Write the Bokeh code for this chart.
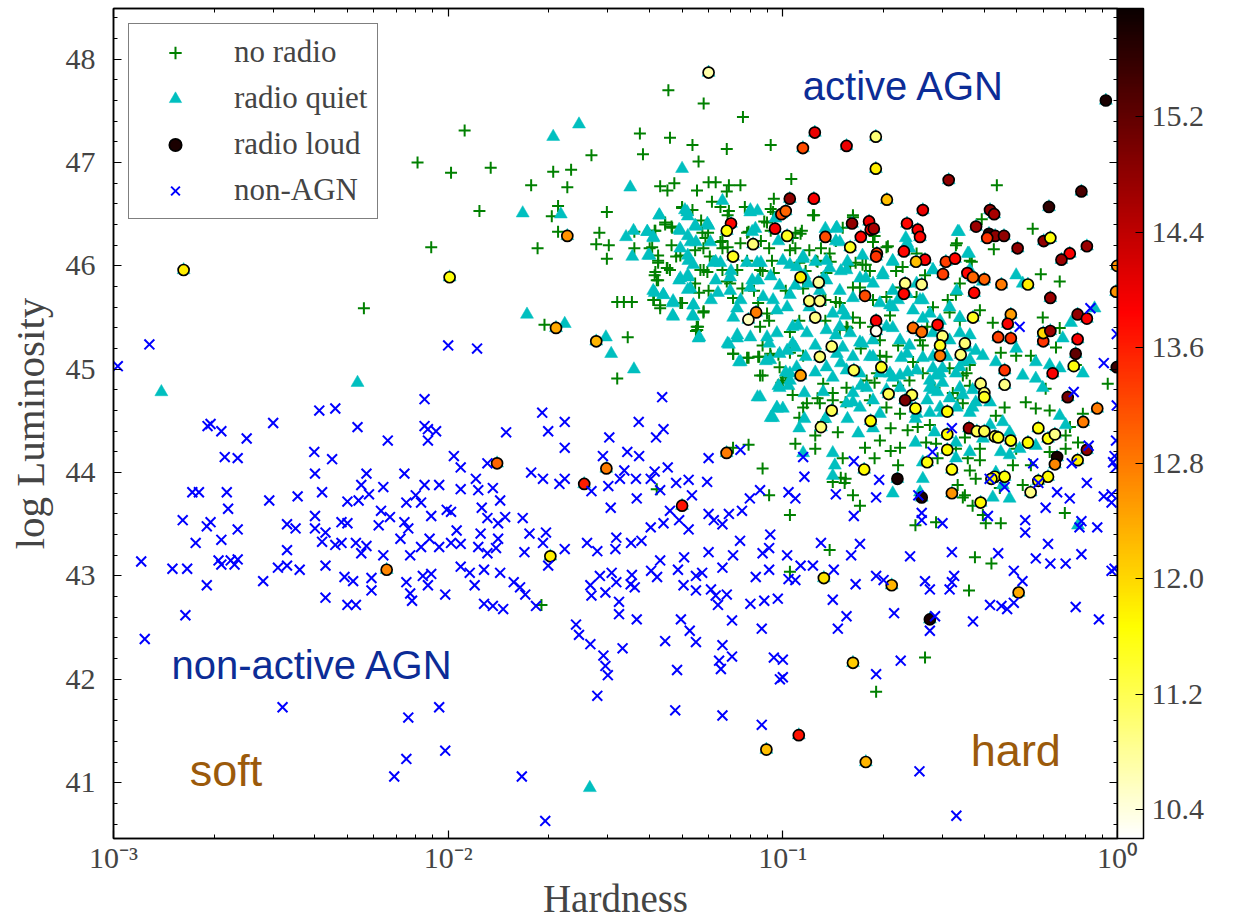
import numpy as np
from bokeh.plotting import figure
from bokeh.models import (LinearColorMapper, ColorBar, Label, LogAxis, LinearAxis,
                          FixedTicker, SingleIntervalTicker, LogTicker, Legend,
                          LegendItem, ColumnDataSource, CustomJSTickFormatter,
                          PrintfTickFormatter)
from bokeh.embed import file_html
from bokeh.resources import INLINE

# ---------------------------------------------------------------- data
# (hardness, log luminosity)
non_agn = [
    (0.00103, 45.03), (0.00128, 45.24), (0.00536, 44.44), (0.0030, 44.48), (0.00412, 44.60),
    (0.0046, 44.62), (0.00191, 44.45), (0.00195, 44.47), (0.0021, 44.40), (0.0025, 44.33),
    (0.00215, 44.15), (0.00235, 44.14), (0.00398, 44.20), (0.0045, 44.13), (0.0040, 43.99),
    (0.0085, 44.71), (0.0085, 44.45), (0.0087, 44.42), (0.0092, 44.40), (0.0087, 44.31),
    (0.0066, 44.31), (0.0057, 43.99), (0.0074, 43.99), (0.0055, 43.88), (0.0064, 43.86),
    (0.0085, 43.88), (0.0094, 43.88), (0.00172, 43.81), (0.0018, 43.81), (0.00218, 43.81),
    (0.0042, 43.81), (0.00355, 43.77), (0.00292, 43.73), (0.0050, 43.72), (0.0054, 43.73),
    (0.0058, 43.79), (0.0075, 43.71), (0.0080, 43.78), (0.0083, 43.71), (0.0022, 43.65),
    (0.0040, 43.58), (0.0063, 43.63), (0.0067, 43.57), (0.0089, 43.58), (0.0099, 43.64),
    (0.00161, 43.54), (0.0019, 43.48), (0.00195, 43.52), (0.00235, 43.45), (0.0033, 43.50),
    (0.0035, 43.46), (0.0040, 43.46), (0.0043, 43.42), (0.0048, 43.52), (0.0050, 43.51),
    (0.0062, 43.49), (0.0074, 43.52), (0.0076, 43.46), (0.00176, 43.32), (0.0021, 43.35),
    (0.0033, 43.25), (0.0042, 43.33), (0.0046, 43.30), (0.0048, 43.32), (0.0053, 43.32),
    (0.0057, 43.29), (0.0055, 43.22), (0.0064, 43.20), (0.0072, 43.36), (0.0083, 43.28),
    (0.0088, 43.36), (0.0094, 43.28), (0.0077, 43.20), (0.00121, 43.14), (0.00206, 43.15),
    (0.00224, 43.15), (0.00235, 43.16), (0.0015, 43.07), (0.00166, 43.07), (0.0019, 42.91),
    (0.0021, 43.11), (0.0023, 43.11), (0.0028, 42.95), (0.0031, 43.08), (0.0033, 43.10),
    (0.0036, 43.06), (0.0043, 42.79), (0.0043, 43.10), (0.0049, 42.99), (0.0052, 42.95),
    (0.0050, 42.72), (0.0053, 42.72), (0.0059, 42.98), (0.0059, 42.86), (0.0075, 42.94),
    (0.0077, 42.83), (0.0078, 42.76), (0.0084, 43.00), (0.0089, 43.02), (0.0087, 42.91),
    (0.0098, 42.82), (0.00124, 42.39), (0.0076, 41.63), (0.0075, 41.23), (0.0069, 41.06),
    (0.0098, 41.31), (0.0032, 41.73), (0.0094, 41.73), (0.00164, 42.62),
    (0.0100, 45.23), (0.0122, 45.20), (0.0436, 44.73), (0.0191, 44.58), (0.0223, 44.49),
    (0.0199, 44.40), (0.0149, 44.39), (0.0371, 44.49), (0.044, 44.42), (0.0418, 44.34),
    (0.0303, 44.34), (0.0223, 44.24), (0.0104, 44.16), (0.0109, 44.05), (0.0131, 44.09),
    (0.029, 44.16), (0.0343, 44.20), (0.0372, 44.16), (0.060, 44.14), (0.0747, 44.22),
    (0.0177, 44.00), (0.0192, 43.94), (0.0223, 43.94), (0.0215, 43.89), (0.0301, 43.87),
    (0.0268, 43.82), (0.0336, 44.02), (0.0326, 43.94), (0.0364, 43.94), (0.0414, 44.01),
    (0.0453, 44.05), (0.0403, 43.94), (0.043, 43.83), (0.048, 43.90), (0.0523, 43.93),
    (0.0594, 43.91), (0.0535, 43.78), (0.0366, 43.75), (0.0306, 43.66), (0.046, 43.63),
    (0.0855, 43.83), (0.0797, 43.75), (0.0755, 43.63), (0.069, 43.60), (0.060, 43.60),
    (0.0622, 43.54), (0.066, 43.50), (0.049, 43.54), (0.044, 43.51), (0.0403, 43.47),
    (0.0523, 43.45), (0.0917, 43.40), (0.0745, 43.34), (0.0378, 43.34), (0.0352, 43.32),
    (0.0318, 43.37), (0.026, 43.32), (0.0279, 43.24), (0.0316, 43.26), (0.0223, 43.26),
    (0.0196, 43.42), (0.0192, 43.32), (0.0175, 43.41), (0.0169, 43.23), (0.0167, 43.56),
    (0.0143, 43.73), (0.0126, 43.66), (0.0136, 43.85), (0.0121, 43.94), (0.0109, 43.84),
    (0.0123, 43.83), (0.0131, 43.56), (0.0141, 43.51), (0.0148, 43.57), (0.0106, 43.44),
    (0.0125, 43.41), (0.0141, 43.36), (0.0109, 43.31), (0.0123, 43.28), (0.0139, 43.27),
    (0.0102, 43.62), (0.0102, 43.32), (0.0131, 43.22), (0.043, 43.15), (0.0507, 43.18),
    (0.060, 43.23), (0.071, 43.20), (0.087, 43.22), (0.091, 43.27),
    (0.0109, 43.09), (0.0116, 43.03), (0.0128, 43.06), (0.0143, 43.03), (0.0120, 42.91),
    (0.0157, 42.94), (0.0164, 42.89), (0.0170, 42.82), (0.0128, 42.73), (0.0136, 42.71),
    (0.0146, 42.68), (0.0183, 42.71), (0.0199, 43.10), (0.0284, 43.00), (0.0308, 43.03),
    (0.0266, 42.91), (0.0268, 42.81), (0.0295, 42.84), (0.0318, 42.94), (0.0351, 42.92),
    (0.0354, 43.01), (0.0361, 42.89), (0.0404, 43.05), (0.0421, 42.99), (0.0324, 42.75),
    (0.0324, 42.63), (0.0366, 42.58), (0.0241, 42.53), (0.0246, 42.43), (0.0266, 42.34),
    (0.0291, 42.23), (0.0295, 42.13), (0.0300, 42.04), (0.0332, 42.30), (0.0279, 41.84),
    (0.0486, 43.06), (0.0505, 42.91), (0.0550, 43.00), (0.0550, 42.86), (0.0574, 43.03),
    (0.061, 42.87), (0.063, 42.81), (0.064, 42.72), (0.068, 42.82), (0.066, 43.08),
    (0.0496, 42.58), (0.0527, 42.47), (0.0550, 42.36), (0.0445, 42.37), (0.0705, 42.57),
    (0.066, 42.33), (0.0645, 42.18), (0.0653, 42.10), (0.0705, 42.22), (0.0483, 42.09),
    (0.0477, 41.70), (0.066, 41.65), (0.0865, 41.56), (0.0865, 42.49), (0.080, 42.73),
    (0.088, 42.76), (0.0966, 42.78), (0.094, 42.21), (0.098, 42.00), (0.083, 42.99),
    (0.091, 43.06), (0.0166, 41.06), (0.0195, 40.63),
    (0.104, 42.97), (0.109, 42.96), (0.113, 43.10), (0.123, 43.10), (0.142, 43.06),
    (0.141, 42.77), (0.155, 42.61), (0.146, 42.49), (0.165, 42.92), (0.19, 43.00),
    (0.2, 42.96), (0.215, 42.64), (0.266, 42.95), (0.275, 42.87), (0.285, 42.61),
    (0.275, 42.47), (0.315, 42.87), (0.32, 42.94), (0.325, 43.00), (0.37, 42.56),
    (0.416, 42.72), (0.45, 42.71), (0.468, 42.68), (0.49, 42.74), (0.49, 43.05),
    (0.52, 42.95), (0.75, 42.70), (0.88, 42.58), (0.96, 43.05), (0.63, 43.12),
    (0.70, 43.12), (0.100, 42.19), (0.100, 42.02), (0.225, 42.18), (0.19, 42.05),
    (0.256, 41.11), (0.33, 40.68),
    (0.51, 45.41), (0.83, 45.59), (0.995, 45.34), (0.91, 45.06), (0.995, 44.65),
    (0.74, 44.78), (0.32, 44.43), (0.28, 44.20), (0.82, 44.26), (0.99, 44.31),
    (0.98, 44.16), (0.97, 44.10), (0.99, 44.05), (0.73, 44.09), (0.56, 44.09),
    (0.115, 44.15), (0.116, 43.96), (0.163, 44.11), (0.194, 43.93), (0.415, 43.94),
    (0.46, 43.86), (0.58, 43.90), (0.81, 43.90), (0.66, 43.81), (0.91, 43.77),
    (0.96, 43.79), (0.96, 43.71), (0.72, 43.75), (0.104, 43.81), (0.109, 43.75),
    (0.144, 43.79), (0.19, 43.76), (0.254, 43.78), (0.26, 43.61), (0.26, 43.54),
    (0.30, 43.51), (0.41, 43.58), (0.53, 43.54), (0.53, 43.42), (0.61, 43.66),
    (0.62, 43.31), (0.78, 43.53), (0.87, 43.47), (0.77, 43.47), (0.163, 43.58),
    (0.13, 43.32), (0.17, 43.31), (0.16, 43.20), (0.103, 43.20), (0.24, 43.19),
    (0.32, 43.23), (0.44, 43.22), (0.78, 43.21), (0.57, 43.17), (0.98, 43.07),
]

no_radio = [
    (0.0081, 47.00), (0.0089, 46.18), (0.0102, 46.90), (0.0056, 45.59),
    (0.0112, 47.31), (0.0134, 46.95), (0.0177, 46.78), (0.0124, 46.53), (0.0206, 46.91),
    (0.0233, 46.93), (0.0227, 46.76), (0.0268, 47.07), (0.0374, 47.28), (0.0382, 47.08),
    (0.046, 47.24), (0.0455, 47.70), (0.058, 47.57), (0.076, 47.44), (0.0537, 47.17),
    (0.068, 47.13), (0.092, 47.17), (0.0560, 47.01), (0.0213, 46.58), (0.0204, 46.48),
    (0.0298, 46.52), (0.0213, 46.33), (0.0185, 46.17), (0.0283, 46.32), (0.0277, 46.21),
    (0.0302, 46.20), (0.0298, 46.07), (0.0430, 46.77), (0.0452, 46.73), (0.0474, 46.80),
    (0.0554, 46.73), (0.060, 46.81), (0.063, 46.81), (0.068, 46.72), (0.069, 46.78),
    (0.0747, 46.78), (0.092, 46.55), (0.094, 46.65), (0.050, 46.56), (0.0537, 46.54),
    (0.0445, 46.40), (0.0465, 46.38), (0.057, 46.44), (0.0614, 46.62), (0.069, 46.53),
    (0.077, 46.57), (0.088, 46.43), (0.036, 46.33), (0.0414, 46.34), (0.036, 46.17),
    (0.040, 46.17), (0.0424, 46.10), (0.0424, 46.03), (0.045, 45.98), (0.0414, 45.91),
    (0.0424, 45.86), (0.0465, 46.20), (0.048, 46.09), (0.0587, 46.27), (0.0605, 46.09),
    (0.058, 45.96), (0.066, 46.24), (0.066, 46.17), (0.068, 45.85), (0.0747, 46.22),
    (0.086, 46.24), (0.087, 45.95), (0.091, 46.17), (0.094, 45.93), (0.092, 46.34),
    (0.079, 46.33),
    (0.0194, 45.43), (0.032, 45.65), (0.0335, 45.65), (0.0354, 45.65), (0.0344, 45.31),
    (0.032, 44.91), (0.0412, 45.67), (0.043, 45.59), (0.050, 45.64), (0.0562, 45.74),
    (0.060, 45.76), (0.058, 45.56), (0.0553, 45.41), (0.055, 45.37), (0.071, 45.15),
    (0.079, 45.11), (0.085, 45.12), (0.092, 45.13), (0.097, 45.14), (0.087, 45.23),
    (0.091, 45.47), (0.087, 44.94), (0.071, 45.69), (0.0757, 45.78), (0.082, 45.76),
    (0.071, 44.24), (0.079, 44.27), (0.087, 44.04), (0.091, 43.78), (0.042, 43.84),
    (0.099, 44.87), (0.0190, 42.72),
    (0.105, 43.04), (0.36, 42.86), (0.266, 42.21), (0.19, 41.88), (0.42, 43.12),
    (0.106, 46.84), (0.124, 46.49), (0.436, 46.78), (0.393, 46.45), (0.558, 46.36),
    (0.427, 46.16), (0.329, 46.20), (0.367, 46.04), (0.206, 46.19), (0.188, 46.29),
    (0.162, 46.49), (0.113, 46.31), (0.109, 46.17), (0.107, 46.27), (0.590, 45.92),
    (0.672, 45.85), (0.144, 46.24), (0.165, 46.03), (0.177, 46.01), (0.159, 46.00),
    (0.130, 46.17), (0.127, 46.04), (0.139, 46.04), (0.266, 45.91), (0.218, 45.95),
    (0.182, 45.95), (0.117, 45.95),
    (0.102, 45.76), (0.115, 45.78), (0.134, 45.67), (0.144, 45.65), (0.162, 45.79),
    (0.170, 45.45), (0.134, 45.47), (0.112, 45.47), (0.105, 45.36), (0.105, 45.16),
    (0.115, 45.13), (0.156, 45.40), (0.171, 45.20), (0.195, 45.28), (0.195, 45.13),
    (0.209, 45.52), (0.221, 45.23), (0.245, 45.07), (0.262, 45.23), (0.315, 45.55),
    (0.329, 45.72), (0.388, 45.57), (0.424, 45.45), (0.448, 45.16), (0.498, 45.13),
    (0.551, 45.13), (0.598, 45.50), (0.672, 45.40), (0.655, 45.21), (0.751, 45.04),
    (0.935, 44.86), (0.610, 44.81), (0.627, 44.60), (0.570, 44.62), (0.532, 44.68),
    (0.460, 44.63), (0.433, 44.55), (0.333, 44.72), (0.362, 44.84), (0.345, 44.94),
    (0.315, 45.01), (0.284, 44.82), (0.262, 44.96), (0.239, 44.89), (0.221, 44.84),
    (0.188, 44.87), (0.173, 44.84), (0.154, 44.68), (0.141, 44.77), (0.127, 44.72),
    (0.115, 44.63), (0.107, 44.75), (0.102, 44.92), (0.132, 44.49), (0.125, 44.36),
    (0.109, 44.28), (0.125, 44.23), (0.146, 44.39), (0.151, 44.14), (0.154, 43.94),
    (0.153, 43.90), (0.176, 44.24), (0.195, 44.31), (0.188, 44.14), (0.210, 44.21),
    (0.224, 44.24), (0.221, 44.07), (0.210, 44.43), (0.236, 44.41), (0.253, 44.44),
    (0.275, 44.46), (0.268, 44.29), (0.287, 44.28), (0.290, 44.14), (0.329, 44.23),
    (0.350, 44.34), (0.357, 44.14), (0.362, 44.02), (0.388, 44.23), (0.388, 44.12),
    (0.377, 43.94), (0.333, 43.88), (0.350, 43.78), (0.369, 43.68), (0.396, 43.59),
    (0.404, 43.51), (0.445, 43.85), (0.448, 43.51), (0.487, 44.07), (0.551, 44.07),
    (0.521, 43.88), (0.498, 44.23), (0.627, 44.20), (0.700, 44.23), (0.788, 44.57),
    (0.721, 44.44), (0.700, 44.36), (0.762, 44.29), (0.696, 43.61), (0.105, 43.59),
    (0.149, 43.95), (0.141, 43.91), (0.162, 43.78), (0.170, 43.68), (0.249, 43.49),
    (0.287, 43.52), (0.345, 43.76), (0.375, 43.18), (0.138, 43.25),
    (0.050, 46.57), (0.0445, 46.42), (0.0467, 46.37), (0.0416, 46.34), (0.0407, 46.18),
    (0.0424, 46.05), (0.0416, 45.94), (0.0452, 45.98), (0.0460, 45.96), (0.0420, 45.86),
    (0.0494, 46.10), (0.0547, 46.15), (0.0579, 46.17), (0.0575, 46.32), (0.0598, 46.32),
    (0.0567, 45.96), (0.0595, 45.94), (0.0547, 45.83), (0.0410, 45.67), (0.0430, 45.62),
    (0.0494, 45.64), (0.0579, 45.55), (0.0558, 45.41), (0.0555, 45.38), (0.0651, 46.23),
    (0.0684, 46.18), (0.0651, 46.57), (0.0684, 46.49), (0.0660, 45.96), (0.0696, 45.83),
    (0.0731, 45.96), (0.0782, 46.32), (0.0782, 46.05), (0.0897, 46.42), (0.0935, 46.52),
    (0.0928, 46.05), (0.0855, 45.96), (0.0844, 45.64), (0.0855, 45.41), (0.0897, 45.54),
    (0.0711, 45.15), (0.0782, 45.11), (0.0844, 45.12), (0.0917, 45.15), (0.0855, 44.94),
    (0.0978, 45.02), (0.100, 44.89), (0.112, 46.03), (0.105, 46.15), (0.109, 46.32),
    (0.120, 46.15), (0.123, 46.49), (0.114, 46.34), (0.126, 46.05), (0.135, 45.93),
    (0.138, 46.12), (0.132, 45.67), (0.148, 45.64), (0.162, 46.47), (0.151, 46.37),
    (0.186, 46.23), (0.204, 46.18), (0.173, 46.01), (0.170, 45.79), (0.186, 45.67),
    (0.204, 45.70), (0.155, 45.41), (0.148, 45.38), (0.162, 45.50), (0.186, 45.41),
    (0.204, 45.12), (0.191, 44.96), (0.178, 44.89), (0.182, 44.70), (0.204, 44.63),
    (0.224, 44.57), (0.155, 44.82), (0.132, 44.86), (0.129, 44.67), (0.141, 44.70),
    (0.118, 44.67), (0.112, 44.53), (0.331, 46.22), (0.362, 46.05), (0.338, 45.83),
    (0.311, 45.67), (0.281, 45.60), (0.270, 45.41), (0.257, 45.28), (0.338, 45.47),
    (0.354, 44.96), (0.362, 45.04), (0.322, 44.77), (0.345, 44.67), (0.295, 45.21),
    (0.251, 45.70), (0.224, 45.79), (0.228, 45.99), (0.251, 46.12),
]

radio_quiet = [
    (0.00139, 44.78), (0.00536, 44.87), (0.0246, 47.37), (0.0206, 47.25), (0.050, 46.94),
    (0.0350, 46.76), (0.0167, 46.51), (0.0217, 46.50), (0.0428, 46.49), (0.0358, 46.34),
    (0.034, 46.28), (0.0394, 46.33), (0.041, 46.28), (0.0355, 46.09), (0.040, 46.10),
    (0.051, 46.54), (0.052, 46.48), (0.055, 46.38), (0.049, 46.35), (0.052, 46.29),
    (0.055, 46.23), (0.060, 46.39), (0.066, 46.63), (0.080, 46.54), (0.084, 46.53),
    (0.081, 46.33), (0.052, 46.10), (0.054, 46.01), (0.052, 45.91), (0.049, 45.86),
    (0.063, 46.04), (0.070, 45.95), (0.063, 45.86), (0.078, 46.03), (0.086, 46.03),
    (0.081, 45.86), (0.092, 45.90), (0.095, 46.46), (0.097, 46.24),
    (0.0172, 45.53), (0.0223, 45.44), (0.0296, 45.31), (0.0307, 45.15), (0.0359, 45.00),
    (0.0414, 45.74), (0.044, 45.72), (0.047, 45.66), (0.047, 45.51), (0.054, 45.62),
    (0.054, 45.51), (0.052, 45.77), (0.056, 45.30), (0.061, 45.67), (0.064, 45.74),
    (0.069, 45.24), (0.073, 45.30), (0.080, 45.31), (0.074, 45.07), (0.089, 45.08),
    (0.091, 45.25), (0.084, 44.73), (0.096, 44.62), (0.092, 44.53), (0.097, 44.84),
    (0.073, 45.59), (0.0265, 40.95),
    (0.105, 45.72), (0.111, 45.42), (0.109, 45.21), (0.117, 45.12), (0.102, 44.97),
    (0.104, 44.84), (0.116, 44.77), (0.125, 45.23), (0.144, 45.33), (0.149, 45.06),
    (0.154, 45.52), (0.162, 45.69), (0.170, 45.26), (0.171, 44.84), (0.186, 45.12),
    (0.195, 44.96), (0.209, 44.96), (0.209, 45.62), (0.213, 45.40), (0.221, 45.67),
    (0.226, 45.11), (0.224, 44.94), (0.236, 44.97), (0.239, 45.23), (0.257, 45.67),
    (0.262, 45.11), (0.262, 45.49), (0.275, 44.82), (0.281, 45.01), (0.287, 44.94),
    (0.300, 45.01), (0.290, 44.78), (0.300, 44.87), (0.315, 44.72), (0.300, 44.58),
    (0.329, 44.96), (0.345, 45.07), (0.362, 45.33), (0.345, 44.75), (0.377, 45.18),
    (0.362, 44.58), (0.377, 44.68), (0.416, 44.68), (0.396, 45.13), (0.433, 45.07),
    (0.416, 44.46), (0.454, 44.49), (0.448, 44.20), (0.476, 44.17), (0.433, 44.00),
    (0.454, 43.88), (0.424, 43.76), (0.396, 44.33), (0.498, 45.20), (0.521, 44.94),
    (0.570, 45.07), (0.570, 44.91), (0.598, 44.82), (0.627, 45.04), (0.672, 45.01),
    (0.686, 45.30), (0.726, 45.45), (0.788, 44.96), (0.854, 45.59), (0.672, 44.55),
    (0.700, 44.46), (0.570, 44.26), (0.510, 44.23), (0.476, 44.39), (0.362, 44.20),
    (0.329, 44.29), (0.284, 44.39), (0.275, 44.58), (0.249, 44.52), (0.249, 44.29),
    (0.262, 44.10), (0.257, 43.81), (0.213, 43.80), (0.186, 44.43), (0.168, 44.38),
    (0.156, 44.52), (0.162, 44.68), (0.141, 44.19), (0.143, 44.07), (0.141, 43.97),
    (0.115, 44.19), (0.116, 44.52), (0.134, 44.52), (0.132, 44.78), (0.125, 44.97),
    (0.112, 44.43), (0.100, 44.62), (0.262, 43.94), (0.329, 44.14), (0.476, 43.75),
    (0.762, 43.49),
    (0.336, 46.33), (0.360, 46.12), (0.498, 45.91), (0.521, 45.83), (0.396, 45.85),
    (0.281, 45.96), (0.239, 46.17), (0.233, 46.27), (0.213, 46.04), (0.199, 45.91),
    (0.177, 45.88), (0.144, 46.36), (0.134, 46.36), (0.144, 46.24), (0.156, 46.04),
    (0.149, 45.95), (0.138, 45.98), (0.125, 46.04), (0.115, 46.09), (0.105, 46.01),
    (0.116, 45.91), (0.132, 45.88), (0.109, 45.81), (0.170, 45.88), (0.173, 46.10),
    (0.0427, 46.49), (0.0393, 46.33), (0.0410, 46.27), (0.0396, 46.10), (0.0518, 46.52),
    (0.0547, 46.39), (0.0595, 46.41), (0.0494, 46.34), (0.0530, 46.23), (0.0494, 46.17),
    (0.0607, 46.23), (0.0651, 46.03), (0.0620, 46.03), (0.0522, 46.05), (0.0494, 45.88),
    (0.0522, 45.89), (0.0530, 45.78), (0.0410, 45.76), (0.0439, 45.72), (0.0469, 45.64),
    (0.0469, 45.52), (0.0541, 45.62), (0.0538, 45.52), (0.0563, 45.31), (0.0696, 45.89),
    (0.0696, 45.76), (0.0748, 45.67), (0.0711, 45.50), (0.0684, 45.25), (0.0748, 45.07),
    (0.0731, 45.33), (0.0799, 45.79), (0.0838, 46.03), (0.0799, 46.52), (0.0828, 46.36),
    (0.0844, 45.86), (0.0873, 45.70), (0.0935, 45.67), (0.0978, 45.81), (0.096, 45.57),
    (0.100, 46.05), (0.110, 45.99), (0.115, 46.07), (0.119, 45.83), (0.103, 45.60),
    (0.107, 45.41), (0.0897, 45.31), (0.096, 45.35), (0.103, 45.18), (0.0917, 45.09),
    (0.0978, 45.15), (0.107, 45.25), (0.110, 45.02), (0.105, 44.96), (0.0978, 44.82),
    (0.0855, 44.73), (0.096, 44.63), (0.0935, 44.53), (0.105, 44.89), (0.118, 45.35),
    (0.120, 45.60), (0.129, 45.76), (0.135, 45.86), (0.135, 46.05), (0.145, 46.37),
    (0.148, 46.23), (0.155, 45.96), (0.148, 45.76), (0.151, 45.57), (0.141, 45.54),
    (0.135, 45.38), (0.148, 45.41), (0.159, 45.35), (0.151, 45.21), (0.162, 45.12),
    (0.145, 45.15), (0.135, 45.02), (0.141, 44.92), (0.155, 44.99), (0.173, 45.25),
    (0.186, 45.28), (0.182, 45.12), (0.170, 44.96), (0.178, 44.82), (0.162, 44.77),
    (0.155, 44.67), (0.170, 44.63), (0.186, 44.70), (0.195, 44.57), (0.213, 44.92),
    (0.204, 44.80), (0.224, 44.82), (0.235, 44.70), (0.251, 44.57), (0.270, 44.70),
    (0.275, 44.89), (0.251, 44.99), (0.235, 45.15), (0.224, 45.28), (0.204, 45.41),
    (0.213, 45.60), (0.195, 45.64), (0.186, 45.83), (0.199, 45.93), (0.213, 46.05),
    (0.235, 46.22), (0.213, 45.76), (0.235, 45.73), (0.251, 45.83), (0.245, 45.57),
    (0.262, 45.67), (0.275, 45.54), (0.281, 45.35), (0.295, 45.47), (0.315, 45.60),
    (0.331, 45.76), (0.338, 45.50), (0.315, 45.28), (0.338, 45.35), (0.354, 45.21),
    (0.338, 45.02), (0.362, 45.09), (0.309, 45.12), (0.281, 45.12), (0.295, 44.96),
    (0.338, 44.82), (0.369, 44.80), (0.369, 44.63), (0.331, 44.63), (0.295, 44.63),
    (0.281, 44.80), (0.357, 46.12), (0.333, 46.33), (0.281, 45.96), (0.362, 45.96),
]

# (hardness, log luminosity, colour-scale value)
radio_loud = [
    (0.00162, 45.96, 11.8), (0.060, 47.87, 10.7), (0.0101, 45.89, 11.6), (0.0227, 46.29, 12.6),
    (0.0210, 45.40, 12.4), (0.0277, 45.27, 12.3), (0.0832, 45.55, 12.8), (0.0789, 45.48, 10.6),
    (0.0140, 44.09, 13.0), (0.0297, 44.04, 12.8), (0.0255, 43.89, 13.6), (0.050, 43.68, 13.7),
    (0.0679, 44.19, 12.8), (0.00655, 43.06, 12.7), (0.0202, 43.19, 11.8), (0.0893, 41.32, 12.2),
    (0.1326, 42.98, 11.9), (0.2115, 42.91, 12.3), (0.275, 42.58, 15.8), (0.5065, 42.84, 12.4),
    (0.162, 42.16, 12.1), (0.1116, 41.46, 13.7), (0.177, 41.20, 12.3),
    (0.070, 46.41, 13.8), (0.068, 46.34, 11.6), (0.0948, 46.36, 13.9), (0.099, 46.50, 13.2),
    (0.0815, 46.21, 11.0), (0.071, 46.09, 11.5),
    (0.923, 47.60, 15.8), (0.1246, 47.29, 14.0), (0.1148, 47.14, 13.2), (0.155, 47.16, 14.0),
    (0.1896, 47.25, 11.0), (0.1896, 46.94, 11.8), (0.313, 46.83, 14.8), (0.2046, 46.64, 12.2),
    (0.1049, 46.65, 14.8), (0.1238, 46.65, 13.9), (0.102, 46.53, 13.0), (0.78, 46.72, 15.4),
    (0.624, 46.57, 15.6), (0.262, 46.54, 14.0), (0.416, 46.54, 14.8), (0.428, 46.50, 14.6),
    (0.161, 46.41, 14.8), (0.181, 46.43, 14.0), (0.183, 46.35, 13.9), (0.187, 46.36, 14.6),
    (0.235, 46.41, 13.8), (0.253, 46.35, 13.9), (0.257, 46.28, 13.8), (0.171, 46.28, 13.8),
    (0.134, 46.28, 13.2), (0.103, 46.29, 11.5), (0.378, 46.38, 14.7), (0.413, 46.31, 15.6),
    (0.431, 46.29, 14.8), (0.408, 46.27, 13.4), (0.458, 46.29, 14.8), (0.503, 46.17, 14.8),
    (0.602, 46.24, 14.8), (0.63, 46.27, 11.6), (0.81, 46.19, 14.7), (0.72, 46.12, 13.9),
    (0.68, 46.06, 14.7), (0.998, 46.00, 12.6), (0.159, 46.18, 11.5), (0.191, 46.12, 13.3),
    (0.19, 46.09, 13.4), (0.23, 46.14, 13.8), (0.266, 46.06, 13.9), (0.25, 46.04, 12.2),
    (0.307, 46.04, 13.3), (0.327, 46.07, 13.8), (0.301, 45.92, 13.3), (0.356, 45.93, 13.8),
    (0.37, 45.89, 13.0), (0.40, 45.87, 13.0), (0.45, 45.82, 12.8), (0.54, 45.82, 11.8),
    (0.113, 45.89, 11.8), (0.128, 45.84, 10.8), (0.232, 45.83, 10.9), (0.26, 45.82, 10.9),
    (0.12, 45.66, 11.0), (0.129, 45.66, 10.9), (0.176, 45.71, 13.2), (0.23, 45.73, 13.8),
    (0.373, 45.74, 13.8), (0.63, 45.69, 14.7), (0.99, 45.75, 12.6), (0.125, 45.50, 10.9),
    (0.19, 45.47, 13.9), (0.19, 45.37, 10.3), (0.245, 45.40, 12.9), (0.26, 45.36, 12.9),
    (0.29, 45.43, 13.8), (0.30, 45.32, 11.0), (0.295, 45.23, 11.5), (0.295, 45.13, 12.8),
    (0.34, 45.14, 11.0), (0.35, 45.25, 11.0), (0.37, 45.50, 11.5), (0.48, 45.53, 12.5),
    (0.47, 45.44, 13.9), (0.44, 45.31, 13.3), (0.48, 45.30, 13.4), (0.60, 45.27, 13.4),
    (0.60, 45.35, 12.0), (0.63, 45.37, 14.7), (0.76, 45.53, 14.8), (0.81, 45.49, 13.9),
    (0.76, 45.29, 13.9), (0.75, 45.15, 15.2), (0.74, 45.03, 11.6), (0.64, 44.96, 13.9),
    (0.46, 44.99, 13.4), (0.46, 44.85, 10.9), (0.39, 44.86, 11.0), (0.40, 44.77, 11.0),
    (0.40, 44.73, 11.5), (0.71, 44.73, 15.0), (0.87, 44.62, 12.8), (0.79, 44.49, 12.8),
    (0.81, 44.22, 14.8), (0.113, 44.94, 12.5), (0.14, 45.22, 11.0), (0.129, 45.12, 11.0),
    (0.163, 44.99, 11.2), (0.197, 45.02, 11.5), (0.207, 44.76, 11.2), (0.243, 44.75, 11.2),
    (0.232, 44.70, 15.0), (0.249, 44.62, 11.6), (0.14, 44.60, 11.2), (0.13, 44.44, 11.0),
    (0.183, 44.50, 11.7), (0.31, 44.59, 11.7), (0.31, 44.37, 11.7), (0.31, 44.22, 11.7),
    (0.27, 44.10, 11.6), (0.32, 44.03, 11.6), (0.36, 44.43, 14.7), (0.38, 44.40, 11.2),
    (0.40, 44.40, 11.2), (0.43, 44.35, 11.3), (0.44, 44.34, 11.5), (0.48, 44.31, 11.6),
    (0.54, 44.29, 11.7), (0.58, 44.43, 11.6), (0.62, 44.33, 11.6), (0.65, 44.37, 10.9),
    (0.66, 44.15, 15.8), (0.65, 44.08, 12.7), (0.76, 44.12, 11.8), (0.62, 43.96, 11.7),
    (0.58, 43.92, 11.6), (0.55, 43.81, 10.9), (0.43, 43.96, 11.6), (0.46, 43.96, 11.6),
    (0.42, 43.94, 11.7), (0.39, 43.71, 11.7), (0.32, 43.80, 12.6), (0.22, 43.94, 15.8),
    (0.26, 43.76, 15.8), (0.175, 44.03, 11.7), (0.995, 45.02, 15.5),
]

colour_ticks = [10.4, 11.2, 12.0, 12.8, 13.6, 14.4, 15.2]
colour_low, colour_high = 10.2, 15.95


def columns(rows):
    return [list(c) for c in zip(*rows)]


# reversed "hot" colour map: white -> yellow -> red -> black
def hot_r_palette(n=256):
    t = np.linspace(1.0, 0.0, n)
    r = np.interp(t, [0, 0.365079, 1], [0.0416, 1, 1])
    g = np.interp(t, [0, 0.365079, 0.746032, 1], [0, 0, 1, 1])
    b = np.interp(t, [0, 0.746032, 1], [0, 0, 1])
    return ["#%02x%02x%02x" % (int(round(a * 255)), int(round(c * 255)), int(round(d * 255)))
            for a, c, d in zip(r, g, b)]


nx, ny = columns(non_agn)
gx, gy = columns(no_radio)
qx, qy = columns(radio_quiet)
lx, ly, lc = columns(radio_loud)

mapper = LinearColorMapper(palette=hot_r_palette(), low=colour_low, high=colour_high)

SERIF = "Liberation Serif"
SANS = "Liberation Sans"

p = figure(width=1242, height=922, x_axis_type="log",
           x_range=(1e-3, 1.0), y_range=(40.46, 48.49),
           output_backend="svg", toolbar_location=None,
           min_border_left=113, min_border_top=8, min_border_bottom=84,
           min_border_right=125)
p.grid.visible = False
p.outline_line_color = "black"
p.outline_line_width = 1.5
p.background_fill_color = "white"

# markers
r_no = p.scatter(gx, gy, marker="cross", size=12, line_width=2, line_color="#008000")
r_q = p.scatter(qx, qy, marker="triangle", size=13, fill_color="#00bfbf",
                line_color="#00bfbf", line_width=0.5)
p.scatter(lx, ly, marker="triangle", size=13, fill_color="#00bfbf",
          line_color="#00bfbf", line_width=0.5)
loud_src = ColumnDataSource(dict(x=lx, y=ly, c=lc))
r_loud = p.scatter("x", "y", source=loud_src, marker="circle", size=11,
                   fill_color={"field": "c", "transform": mapper},
                   line_color="black", line_width=1.7)
r_non = p.scatter(nx, ny, marker="x", size=14, line_width=2, line_color="#0000ff")

# axes
tick_style = dict(major_tick_in=8, major_tick_out=0, minor_tick_in=4, minor_tick_out=0,
                  axis_line_width=1.5, major_tick_line_width=1.2, minor_tick_line_width=1.0)

sup = CustomJSTickFormatter(code="""
    const e = Math.round(Math.log10(tick));
    const m = {'-': '\u207b', '0': '\u2070', '1': '\u00b9', '2': '\u00b2', '3': '\u00b3'};
    return '10' + String(e).split('').map(c => m[c]).join('');
""")
xa = p.xaxis[0]
xa.ticker = LogTicker(num_minor_ticks=10)
xa.formatter = sup
xa.update(**tick_style)
xa.major_label_text_font = SERIF
xa.major_label_text_font_size = "30px"
xa.major_label_standoff = 2
xa.axis_label = "Hardness"
xa.axis_label_text_font = SERIF
xa.axis_label_text_font_size = "39px"
xa.axis_label_text_font_style = "normal"
xa.axis_label_standoff = 0

ya = p.yaxis[0]
ya.ticker = SingleIntervalTicker(interval=1, num_minor_ticks=5)
ya.update(**tick_style)
ya.major_label_text_font = SERIF
ya.major_label_text_font_size = "30px"
ya.major_label_standoff = 18
ya.axis_label = "log Luminosity"
ya.axis_label_text_font = SERIF
ya.axis_label_text_font_size = "41px"
ya.axis_label_text_font_style = "normal"
ya.axis_label_standoff = 10

blank = CustomJSTickFormatter(code="return '';")
top = LogAxis(ticker=LogTicker(num_minor_ticks=10), formatter=blank, **tick_style)
top.major_label_standoff = 0
p.add_layout(top, "above")
right = LinearAxis(ticker=SingleIntervalTicker(interval=1, num_minor_ticks=5),
                   formatter=blank, **tick_style)
right.major_label_standoff = 0
p.add_layout(right, "right")

# colour bar
cb = ColorBar(color_mapper=mapper, ticker=FixedTicker(ticks=colour_ticks),
              formatter=PrintfTickFormatter(format="%.1f"),
              width=26, padding=0, margin=22,
              major_label_text_font=SERIF, major_label_text_font_size="30px",
              major_tick_line_color="black", major_tick_in=8, major_tick_out=0,
              label_standoff=8, bar_line_color="black", bar_line_width=1.5,
              border_line_color=None, background_fill_color=None)
p.add_layout(cb, "right")

# legend
legend = Legend(items=[
    LegendItem(label="no radio", renderers=[r_no]),
    LegendItem(label="radio quiet", renderers=[r_q]),
    LegendItem(label="radio loud", renderers=[r_loud], index=18),
    LegendItem(label="non-AGN", renderers=[r_non]),
], location="top_left")
legend.margin = 15
legend.padding = 10
legend.spacing = 10
legend.glyph_width = 72
legend.glyph_height = 31
legend.label_height = 31
legend.label_standoff = 23
legend.label_text_font = SERIF
legend.label_text_font_size = "31px"
legend.border_line_color = "black"
legend.border_line_width = 1.5
legend.background_fill_alpha = 1.0
p.add_layout(legend)

# region annotations
blue_txt = "#0c2c96"
brown_txt = "#9b5a0b"
for x, y, txt, col, size in [
    (0.1086, 47.74, "active AGN", blue_txt, "40px"),
    (0.00141, 42.14, "non-active AGN", blue_txt, "40px"),
    (0.00160, 41.12, "soft", brown_txt, "45px"),
    (0.345, 41.31, "hard", brown_txt, "45px"),
]:
    p.add_layout(Label(x=x, y=y, text=txt, text_color=col, text_font=SANS,
                       text_font_size=size, text_baseline="alphabetic",
                       background_fill_color="white", padding=8))

open("out.html", "w").write(file_html(p, INLINE))
